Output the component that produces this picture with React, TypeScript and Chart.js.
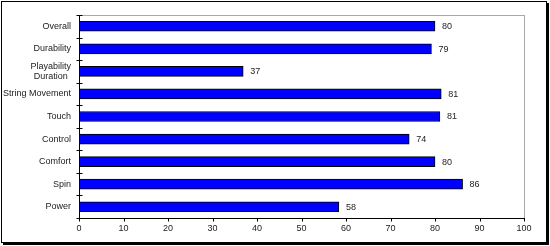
import React, { useEffect, useRef } from "react";
import { Chart, registerables } from "chart.js";

Chart.register(...registerables);

const categories: (string | string[])[] = [
  "Overall",
  "Durability",
  ["Playability", "Duration"],
  "String Movement",
  "Touch",
  "Control",
  "Comfort",
  "Spin",
  "Power",
];
const values = [80, 79.2, 36.9, 81.4, 81.1, 74.2, 80, 86.2, 58.4];
const xTicks = [0, 10, 20, 30, 40, 50, 60, 70, 80, 90, 100];

const FONT = '9px "Liberation Sans", Arial, sans-serif';

const decorPlugin = {
  id: "decor",
  beforeDraw(chart: any) {
    const { ctx, chartArea } = chart;
    ctx.save();
    ctx.fillStyle = "#fff";
    ctx.fillRect(0, 0, chart.width, chart.height);
    // frame with shadow
    ctx.fillStyle = "#000";
    ctx.fillRect(3, 243, 546, 2);
    ctx.fillRect(547, 3, 2, 242);
    ctx.strokeStyle = "#000";
    ctx.lineWidth = 1;
    ctx.strokeRect(1.5, 1.5, 545, 241);
    // plot border (gray)
    ctx.strokeStyle = "#aaa";
    ctx.strokeRect(
      Math.round(chartArea.left) + 0.5,
      Math.round(chartArea.top) + 0.5,
      Math.round(chartArea.right - chartArea.left),
      Math.round(chartArea.bottom - chartArea.top)
    );
    ctx.restore();
  },
  afterDraw(chart: any) {
    const { ctx, chartArea, scales } = chart;
    const x = scales.x;
    const y = scales.y;
    const left = Math.round(chartArea.left) + 0.5;
    const bottom = Math.round(chartArea.bottom) + 0.5;
    ctx.save();
    ctx.strokeStyle = "#000";
    ctx.lineWidth = 1;
    ctx.beginPath();
    ctx.moveTo(left, Math.round(chartArea.top));
    ctx.lineTo(left, bottom);
    ctx.lineTo(Math.round(chartArea.right) + 1, bottom);
    // y boundary ticks crossing axis
    const n = categories.length;
    const step = (chartArea.bottom - chartArea.top) / n;
    for (let i = 0; i <= n; i++) {
      const yy = Math.round(chartArea.top + i * step) + 0.5;
      ctx.moveTo(left - 3, yy);
      ctx.lineTo(left + 3, yy);
    }
    // x ticks
    xTicks.forEach((t) => {
      const xx = Math.round(x.getPixelForValue(t)) + 0.5;
      ctx.moveTo(xx, bottom);
      ctx.lineTo(xx, bottom + 3);
    });
    ctx.stroke();

    // y labels, centered lines
    ctx.font = FONT;
    ctx.fillStyle = "#222";
    ctx.textBaseline = "middle";
    ctx.textAlign = "center";
    categories.forEach((c, i) => {
      const lines = Array.isArray(c) ? c : [c];
      const w = Math.max(...lines.map((l) => ctx.measureText(l).width));
      const cx = chartArea.left - 8 - w / 2;
      const cy = y.getPixelForValue(i);
      const lh = 10;
      lines.forEach((l, j) => {
        ctx.fillText(l, cx, cy + (j - (lines.length - 1) / 2) * lh);
      });
    });

    // value labels
    ctx.textAlign = "left";
    const meta = chart.getDatasetMeta(0);
    meta.data.forEach((bar: any, i: number) => {
      ctx.fillText(String(Math.round(values[i])), bar.x + 7, bar.y + 0.5);
    });
    ctx.restore();
  },
};

export default function App() {
  const ref = useRef<HTMLCanvasElement>(null);
  useEffect(() => {
    document.body.style.margin = "0";
    const chart = new Chart(ref.current!, {
      type: "bar",
      data: {
        labels: categories as any,
        datasets: [
          {
            data: values,
            backgroundColor: "#0000ff",
            borderColor: "#000",
            borderWidth: 1,
            borderSkipped: false,
            barThickness: 10,
          },
        ],
      },
      options: {
        indexAxis: "y",
        animation: false,
        responsive: false,
        maintainAspectRatio: false,
        layout: { padding: { left: 0, top: 15, right: 26, bottom: 0 } },
        plugins: { legend: { display: false }, tooltip: { enabled: false } },
        scales: {
          x: {
            min: 0,
            max: 100,
            afterFit: (s: any) => {
              s.height = 28;
            },
            ticks: {
              stepSize: 10,
              padding: 5,
              color: "#222",
              font: { family: '"Liberation Sans", Arial, sans-serif', size: 9 },
            },
            grid: { display: false, drawTicks: false },
            border: { display: false },
          },
          y: {
            afterFit: (s: any) => {
              s.width = 79;
            },
            ticks: { display: false },
            grid: { display: false, drawTicks: false },
            border: { display: false },
          },
        },
      },
      plugins: [decorPlugin],
    });
    return () => chart.destroy();
  }, []);
  return (
    <div style={{ position: "fixed", left: 0, top: 0, width: 550, height: 246 }}>
      <canvas ref={ref} width={550} height={246} style={{ width: 550, height: 246 }} />
    </div>
  );
}
